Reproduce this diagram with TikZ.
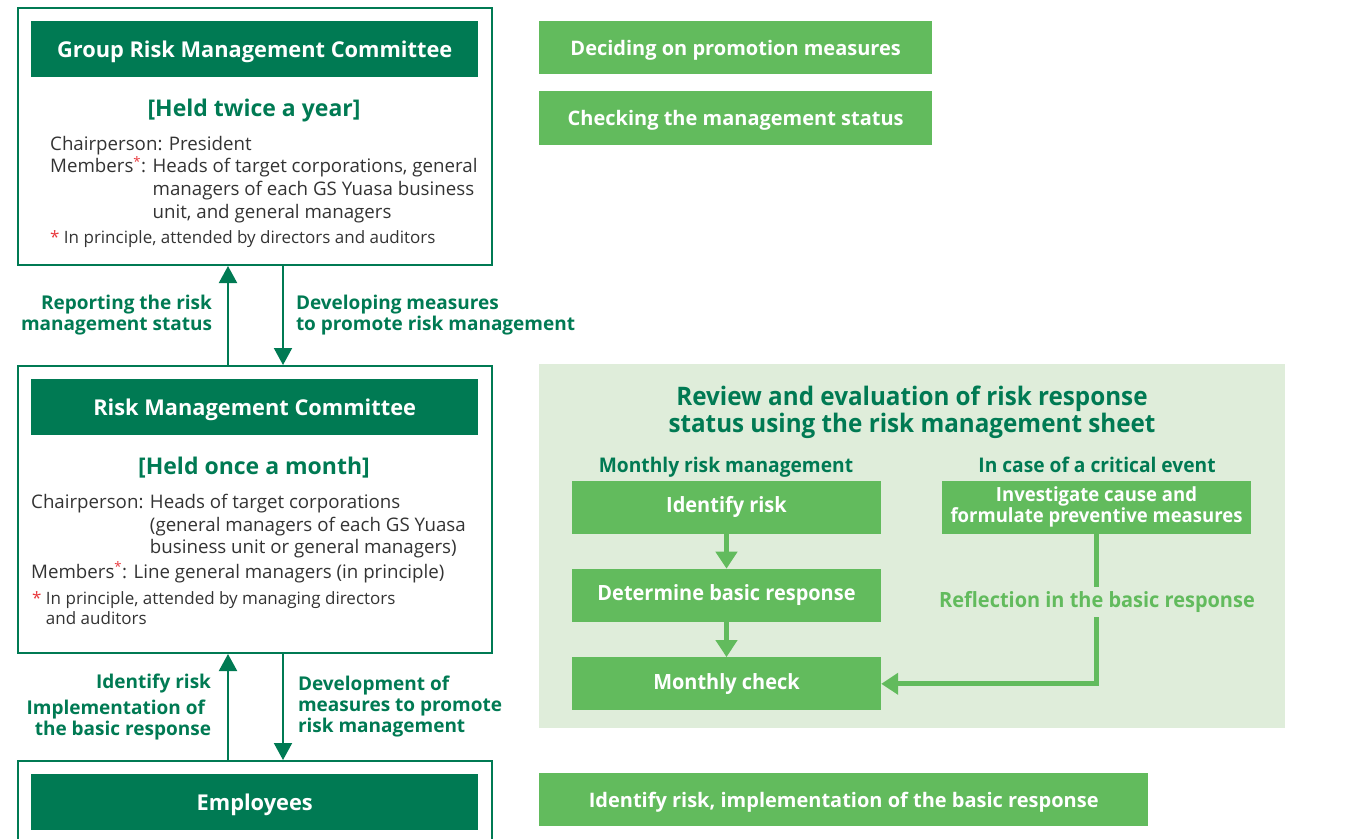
\documentclass[tikz,border=0pt]{standalone}
\usepackage{fontspec}
\setmainfont{Open Sans}
\newfontfamily\condfont{Open Sans}[FakeStretch=0.95]
\usetikzlibrary{arrows.meta,positioning}

\definecolor{gsdark}{HTML}{007A53}
\definecolor{gslight}{HTML}{62BB5D}
\definecolor{gspanel}{HTML}{DFEDDA}
\definecolor{gstext}{HTML}{333333}
\definecolor{gsred}{HTML}{E8383D}

\tikzset{
  frame/.style={draw=gsdark, line width=2pt, minimum width=474pt, inner sep=0pt, anchor=north west},
  headbar/.style={fill=gsdark, text=white, font=\bfseries\fontsize{21.8}{25}\selectfont, text depth=0pt,
    minimum width=447pt, minimum height=56pt, inner sep=0pt, anchor=north west},
  held/.style={text=gsdark, font=\bfseries\fontsize{23}{27}\selectfont, inner sep=0pt, anchor=base},
  body/.style={text=gstext, font=\fontsize{18.7}{22.6}\selectfont, align=left, inner sep=0pt, anchor=base west},
  note/.style={text=gstext, font=\fontsize{17}{19.5}\selectfont, align=left, inner sep=0pt, anchor=base west},
  flowlabel/.style={text=gsdark, font=\bfseries\fontsize{19}{21}\selectfont, inner sep=0pt},
  task/.style={fill=gslight, text=white, font=\bfseries\fontsize{20}{22}\selectfont, text depth=0pt,
    inner sep=0pt, anchor=north west},
  paneltitle/.style={text=gsdark, font=\condfont\bfseries\fontsize{25.5}{27}\selectfont, align=center, inner sep=0pt, anchor=base},
  subhead/.style={text=gsdark, font=\condfont\bfseries\fontsize{20.2}{24}\selectfont, inner sep=0pt, anchor=base},
  stepbox/.style={fill=gslight, text=white, font=\condfont\bfseries\fontsize{21}{21}\selectfont,
    minimum width=309pt, minimum height=53pt, inner sep=0pt, align=center},
  darrow/.style={draw=gsdark, line width=2pt, -{Triangle[width=18pt,length=17pt]}},
  larrow/.style={draw=gslight, line width=5pt, -{Triangle[width=21pt,length=17pt]}},
}

\begin{document}
\begin{tikzpicture}[x=1pt,y=-1pt]
\useasboundingbox (0,0) rectangle (1349,838);

% committees on the left (multi-line texts sit on their last baseline)
\node[frame, minimum height=257pt] (grmc) at (17,7) {};
\node[headbar] (grmchead) at (31,21) {Group Risk Management Committee};
\node[held] (grmcheld) at (254,116) {[Held twice a year]};
\node[body] (grmcbody) at (50,218) {Chairperson: President\\
  Members\textsuperscript{\textcolor{gsred}{*}}: Heads of target corporations, general\\
  \hphantom{Members\textsuperscript{*}: }managers of each GS Yuasa business\\
  \hphantom{Members\textsuperscript{*}: }unit, and general managers};
\node[note] (grmcnote) at (50,243) {\textcolor{gsred}{*} In principle, attended by directors and auditors};

\node[frame, minimum height=287pt] (rmc) at (17,365) {};
\node[headbar] (rmchead) at (31,379) {Risk Management Committee};
\node[held] (rmcheld) at (254,474) {[Held once a month]};
\node[body] (rmcbody) at (31,578) {Chairperson: Heads of target corporations\\
  \hphantom{Chairperson: }(general managers of each GS Yuasa\\
  \hphantom{Chairperson: }business unit or general managers)\\[1.5pt]
  Members\textsuperscript{\textcolor{gsred}{*}}: Line general managers (in principle)};
\node[note] (rmcnote) at (32,624) {\textcolor{gsred}{*} In principle, attended by managing directors\\
  \hphantom{* }and auditors};

\node[frame, minimum height=100pt] (empl) at (17,760) {};
\node[headbar] (emplhead) at (31,774) {Employees};

% reporting lines
\draw[darrow] ([xshift=-27pt]rmc.north) -- ([xshift=-27pt]grmc.south)
  node[flowlabel, midway, left=15pt, align=right] {Reporting the risk\\management status};
\draw[darrow] ([xshift=28pt]grmc.south) -- ([xshift=28pt]rmc.north)
  node[flowlabel, midway, right=12pt, align=left] {Developing measures\\to promote risk management};
\draw[darrow] ([xshift=-27pt]empl.north) -- ([xshift=-27pt]rmc.south)
  node[flowlabel, midway, left=16pt, align=right] {Identify risk\\[5pt]Implementation of\kern6pt\\the basic response};
\draw[darrow] ([xshift=28pt]rmc.south) -- ([xshift=28pt]empl.north)
  node[flowlabel, midway, right=14pt, align=left] {Development of\\measures to promote\\risk management};

% tasks on the right
\node[task, minimum width=393pt, minimum height=53pt] (decide) at (539,21) {Deciding on promotion measures};
\node[task, minimum width=393pt, minimum height=54pt] (status) at (539,91) {Checking the management status};
\node[task, minimum width=609pt, minimum height=53pt] (empltask) at (539,773) {Identify risk, implementation of the basic response};

% risk management sheet
\node[fill=gspanel, minimum width=746pt, minimum height=364pt, inner sep=0pt, anchor=north west] (sheet) at (539,364) {};
\node[paneltitle] (sheettitle) at (912,432) {Review and evaluation of risk response\\status using the risk management sheet};
\node[subhead] (monthlyhd) at (726,472) {Monthly risk management};
\node[subhead] (criticalhd) at (1097,472) {In case of a critical event};

\node[stepbox] (identify) at (726.5,507) {Identify risk};
\node[stepbox, below=35pt of identify] (determine) {Determine basic response};
\node[stepbox, below=35pt of determine] (mcheck) {Monthly check};
\node[stepbox, font=\condfont\bfseries\fontsize{19.5}{21}\selectfont] (investigate) at (1096.5,507)
  {Investigate cause and\\formulate preventive measures};

\draw[larrow] (identify.south) -- (determine.north);
\draw[larrow] (determine.south) -- (mcheck.north);
\draw[larrow] (investigate.south) |- (mcheck.east);
\node[subhead, anchor=center, text=gslight, font=\condfont\bfseries\fontsize{21}{24}\selectfont,
  fill=gspanel, inner xsep=2pt, inner ysep=4pt] (reflect) at (1097,602)
  {Reflection in the basic response};
\end{tikzpicture}
\end{document}
